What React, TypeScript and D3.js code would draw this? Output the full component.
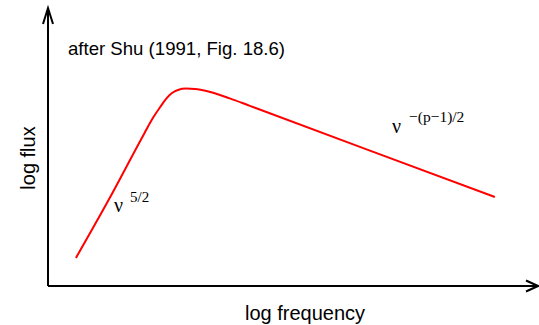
import { useEffect, useRef } from "react";
import * as d3 from "d3";

// points (arbitrary log units, 0..10 on both axes)
const logFreq = [0.57, 1.27, 1.96, 2.14, 2.29, 2.41, 2.53, 2.65, 2.82, 3.0, 3.31, 3.71, 4.12, 6.57, 9.12];
const logFlux = [1.01, 3.2, 5.47, 6.04, 6.44, 6.73, 6.94, 7.05, 7.1, 7.09, 6.98, 6.75, 6.48, 4.87, 3.2];

const W = 539;
const H = 325;

export default function App() {
  const svgRef = useRef<SVGSVGElement>(null);

  useEffect(() => {
    const svg = d3.select(svgRef.current);
    svg.selectAll("*").remove();

    const x = d3.scaleLinear().domain([0, 10]).range([48, 538]);
    const y = d3.scaleLinear().domain([0, 10]).range([286, 8]);

    const sans = "'Liberation Sans', Arial, Helvetica, sans-serif";
    const serif = "'Liberation Serif', 'Times New Roman', serif";

    // axes with open arrow heads
    const ax = svg.append("g").attr("stroke", "#000").attr("stroke-width", 2).attr("fill", "none");
    ax.append("path").attr("d", `M${x(0)},${y(0)}H${x(10)}`);
    ax.append("path").attr("d", `M${x(0)},${y(0)}V${y(10)}`);
    ax.append("path")
      .attr("d", `M${x(10) - 12},${y(0) - 5.5}L${x(10)},${y(0)}L${x(10) - 12},${y(0) + 5.5}`);
    ax.append("path")
      .attr("d", `M${x(0) - 5},${y(10) + 16}L${x(0)},${y(10)}L${x(0) + 5},${y(10) + 16}`);

    // spectrum
    const pts = logFreq.map((f, i) => [f, logFlux[i]] as [number, number]);
    const line = d3.line<[number, number]>()
      .x(d => x(d[0]))
      .y(d => y(d[1]))
      .curve(d3.curveMonotoneX);
    svg.append("path")
      .attr("d", line(pts))
      .attr("fill", "none")
      .attr("stroke", "#ff0000")
      .attr("stroke-width", 2);

    // labels
    svg.append("text")
      .attr("x", 68).attr("y", 55)
      .attr("font-family", sans).attr("font-size", 18.6)
      .text("after Shu (1991, Fig. 18.6)");

    svg.append("text")
      .attr("transform", "translate(35,158) rotate(-90)")
      .attr("text-anchor", "middle")
      .attr("font-family", sans).attr("font-size", 20)
      .text("log flux");

    svg.append("text")
      .attr("x", 305).attr("y", 320)
      .attr("text-anchor", "middle")
      .attr("font-family", sans).attr("font-size", 20)
      .text("log frequency");

    const lo = svg.append("text").attr("font-family", serif).attr("fill", "#000");
    lo.append("tspan").attr("x", 114).attr("y", 212).attr("font-size", 20).text("ν");
    lo.append("tspan").attr("x", 130).attr("y", 202).attr("font-size", 15).text("5/2");

    const hi = svg.append("text").attr("font-family", serif).attr("fill", "#000");
    hi.append("tspan").attr("x", 392).attr("y", 133).attr("font-size", 20).text("ν");
    hi.append("tspan").attr("x", 409).attr("y", 122).attr("font-size", 15.5).text("−(p−1)/2");
  }, []);

  return (
    <svg
      ref={svgRef}
      width={W}
      height={H}
      style={{ position: "absolute", left: 0, top: 0, background: "#fff" }}
    />
  );
}
